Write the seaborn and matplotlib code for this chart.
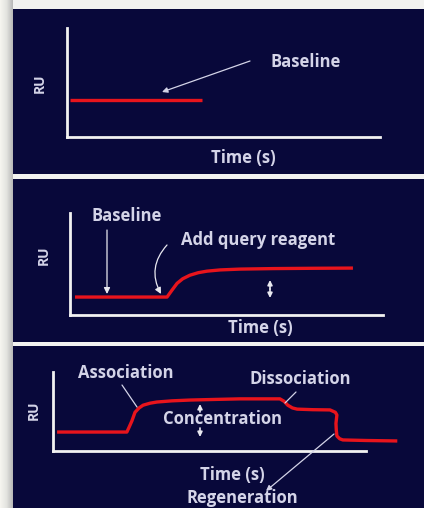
import matplotlib
matplotlib.use("Agg")
import matplotlib.pyplot as plt
import matplotlib.transforms as mtransforms
from matplotlib.patches import FancyArrowPatch
from matplotlib.colors import LinearSegmentedColormap
import seaborn as sns
import numpy as np

# ---------------- data ----------------
# Panel 1: baseline only
p1_time = [1.0, 43.0]
p1_ru = [34.0, 34.0]

# Panel 2: baseline, then add query reagent
p2_time = [1.6, 10.0, 20.0, 31.0, 32.5, 34.2, 36.0, 38.3, 41.0, 43.8, 48.0, 54.3, 65.0, 78.0, 90.4]
p2_ru = [17.6, 17.6, 17.6, 17.6, 24.0, 31.0, 35.5, 39.0, 41.5, 43.0, 44.2, 45.0, 45.5, 45.8, 46.0]

# Panel 3: association / dissociation / regeneration
p3_time = [1.3, 12.0, 23.6, 24.3, 25.2, 26.2, 27.5, 28.8, 31.0, 33.2, 38.0, 43.8, 52.0, 59.7, 67.0,
           72.5, 73.8, 75.0, 76.5, 78.0, 83.0, 88.5, 90.2, 90.7, 90.4, 90.5, 90.7, 91.6, 92.6, 100.0, 110.0]
p3_ru = [24.0, 24.0, 24.0, 30.0, 38.0, 49.0, 54.5, 58.0, 60.5, 62.0, 63.5, 64.5, 65.3, 66.0, 66.0,
         66.0, 63.0, 58.0, 54.5, 53.0, 52.3, 52.0, 49.0, 45.6, 35.0, 27.0, 19.0, 15.5, 14.0, 13.3, 12.7]

axis_label_x = "Time (s)"
axis_label_y = "RU"

# ---------------- style ----------------
W, H = 424, 508
NAVY = "#08083a"
RED = "#e8141c"
TXT = "#d4d4e8"
AXW = "#f2f2f2"
FONT = ["Open Sans", "DejaVu Sans"]

sns.set_theme(style="white")
plt.rcParams["font.family"] = FONT

fig = plt.figure(figsize=(W / 100, H / 100), dpi=100)
fig.patch.set_facecolor("#f2f2f0")

px = mtransforms.Affine2D().scale(1 / W, -1 / H).translate(0, 1) + fig.transFigure


def rect(x0, y0, x1, y1):
    return [x0 / W, 1 - y1 / H, (x1 - x0) / W, (y1 - y0) / H]


# left margin shading (screen capture edge)
gax = fig.add_axes(rect(0, 0, 13, 508))
gax.set_axis_off()
gcm = LinearSegmentedColormap.from_list("g", ["#f6f5f0", "#e4e4e0", "#b8b8b8"])
gax.imshow(np.linspace(0, 1, 32)[None, :], aspect="auto", cmap=gcm, extent=(0, 1, 0, 1))

# panel backgrounds
for (y0, y1) in [(9, 174), (179, 342), (346, 508)]:
    bg = fig.add_axes(rect(13, y0, 424, y1))
    bg.set_facecolor(NAVY)
    bg.set_xticks([]); bg.set_yticks([])
    for s in bg.spines.values():
        s.set_visible(False)


def chart(r, t, ru, clip=True):
    ax = fig.add_axes(rect(*r))
    ax.patch.set_alpha(0)
    sns.lineplot(x=t, y=ru, ax=ax, color=RED, lw=2.4, sort=False, estimator=None)
    ax.set_xlim(0, 100)
    ax.set_ylim(0, 100)
    ax.set_xticks([]); ax.set_yticks([])
    ax.set_xlabel(""); ax.set_ylabel("")
    for k in ["top", "right"]:
        ax.spines[k].set_visible(False)
    for k in ["left", "bottom"]:
        ax.spines[k].set_color(AXW)
        ax.spines[k].set_linewidth(2.0)
    for ln in ax.lines:
        ln.set_clip_on(clip)
        ln.set_solid_capstyle("butt")
    return ax


ax1 = chart((67, 28, 380, 137), p1_time, p1_ru)
ax2 = chart((70, 213, 383, 315), p2_time, p2_ru)
ax3 = chart((53, 372, 366, 451), p3_time, p3_ru, clip=False)

FS = 12


def label(x, y, s, ha="center", rot=0, fs=FS):
    fig.text(x, y, s, transform=px, ha=ha, va="center", color=TXT, fontsize=fs,
             fontweight="bold", rotation=rot, family=FONT)


def arrow(a, b, style="-|>", ms=8, lw=0.9, cs="arc3,rad=0", color=TXT):
    p = FancyArrowPatch(a, b, transform=px, arrowstyle=style, mutation_scale=ms,
                        lw=lw, color=color, connectionstyle=cs, shrinkA=0, shrinkB=0)
    fig.add_artist(p)


# panel 1
label(40, 83, axis_label_y, rot=90, fs=10)
label(243, 158, axis_label_x)
label(306, 62, "Baseline")
arrow((250, 61), (162, 92))

# panel 2
label(44, 255, axis_label_y, rot=90, fs=10)
label(260, 328, axis_label_x)
label(127, 216, "Baseline")
label(181, 240, "Add query reagent", ha="left")
arrow((107, 230), (107, 294), ms=9, color="#e8e8f0")
arrow((167, 245), (161, 294), ms=9, cs="arc3,rad=0.35", color="#e8e8f0")
arrow((270, 289), (270, 280), ms=7, color="#e8e8f0", lw=1.2)
arrow((270, 289), (270, 298), ms=7, color="#e8e8f0", lw=1.2)

# panel 3
label(34, 410, axis_label_y, rot=90, fs=10)
label(232, 475, axis_label_x)
label(126, 373, "Association")
label(300, 379, "Dissociation")
label(223, 419, "Concentration")
label(242, 498, "Regeneration")
arrow((122, 385), (137, 407), style="-", lw=0.9)
arrow((296, 392), (285, 403), style="-", lw=0.9)
arrow((200, 412), (200, 404), ms=7, color="#e8e8f0", lw=1.2)
arrow((200, 428), (200, 437), ms=7, color="#e8e8f0", lw=1.2)
arrow((334, 434), (266, 491), ms=8)

fig.savefig("out.png", dpi=100, facecolor=fig.get_facecolor())
